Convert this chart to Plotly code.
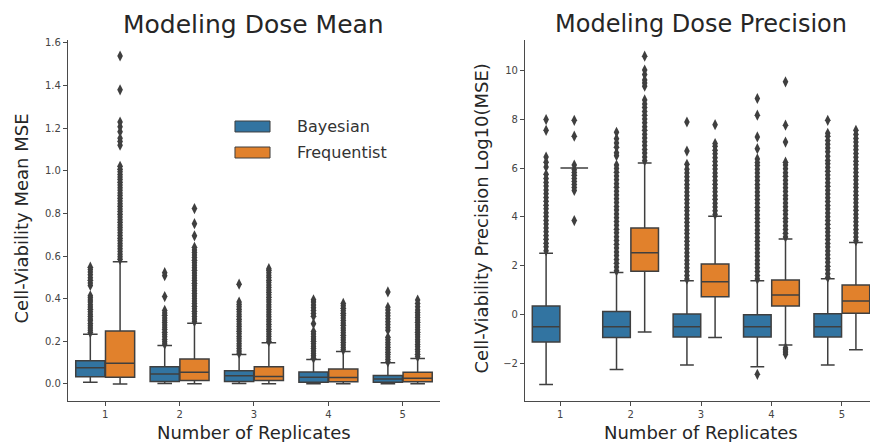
import plotly.graph_objects as go

replicates = ["1", "2", "3", "4", "5"]

# ---- Modeling Dose Mean: Cell-Viability Mean MSE ----
mean_bayes_q1 = [0.034, 0.011, 0.011, 0.008, 0.008]
mean_bayes_median = [0.076, 0.047, 0.038, 0.031, 0.023]
mean_bayes_q3 = [0.109, 0.081, 0.062, 0.056, 0.040]
mean_bayes_low = [0.008, 0.002, 0.002, 0.001, 0.001]
mean_bayes_high = [0.233, 0.180, 0.138, 0.115, 0.099]
mean_bayes_outliers = [
    [0.241, 0.252, 0.263, 0.273, 0.284, 0.296, 0.305, 0.317, 0.327, 0.339, 0.350, 0.361,
     0.372, 0.384, 0.394, 0.405, 0.414, 0.462, 0.474, 0.487, 0.498, 0.512, 0.525, 0.537, 0.548],
    [0.187, 0.198, 0.209, 0.221, 0.232, 0.243, 0.255, 0.266, 0.277, 0.288, 0.299, 0.310,
     0.322, 0.333, 0.345, 0.410, 0.508, 0.522],
    [0.144, 0.155, 0.166, 0.178, 0.189, 0.201, 0.212, 0.223, 0.235, 0.247, 0.258, 0.270,
     0.281, 0.293, 0.304, 0.316, 0.327, 0.339, 0.350, 0.362, 0.373, 0.384, 0.468],
    [0.121, 0.132, 0.143, 0.155, 0.166, 0.177, 0.189, 0.200, 0.211, 0.222, 0.234, 0.246,
     0.283, 0.318, 0.331, 0.345, 0.358, 0.371, 0.384, 0.395],
    [0.104, 0.115, 0.127, 0.138, 0.149, 0.161, 0.172, 0.184, 0.195, 0.207, 0.219, 0.252,
     0.265, 0.279, 0.292, 0.306, 0.320, 0.333, 0.347, 0.360, 0.432],
]

mean_freq_q1 = [0.031, 0.016, 0.016, 0.010, 0.010]
mean_freq_median = [0.097, 0.055, 0.035, 0.030, 0.027]
mean_freq_q3 = [0.249, 0.117, 0.081, 0.070, 0.055]
mean_freq_low = [0.000, 0.001, 0.001, 0.001, 0.001]
mean_freq_high = [0.574, 0.285, 0.193, 0.152, 0.120]
mean_freq_outliers = [
    [0.585, 0.597, 0.609, 0.622, 0.634, 0.647, 0.659, 0.672, 0.684, 0.697, 0.709, 0.722,
     0.734, 0.746, 0.759, 0.771, 0.784, 0.796, 0.809, 0.821, 0.834, 0.846, 0.859, 0.871,
     0.884, 0.896, 0.909, 0.921, 0.934, 0.946, 0.959, 0.971, 0.983, 0.996, 1.008, 1.021,
     1.120, 1.138, 1.153, 1.184, 1.207, 1.229, 1.380, 1.539],
    [0.293, 0.305, 0.317, 0.329, 0.341, 0.353, 0.365, 0.377, 0.389, 0.401, 0.413, 0.425,
     0.437, 0.449, 0.461, 0.473, 0.485, 0.497, 0.509, 0.521, 0.533, 0.545, 0.557, 0.569,
     0.581, 0.593, 0.605, 0.617, 0.629, 0.641, 0.695, 0.752, 0.823],
    [0.200, 0.211, 0.223, 0.234, 0.246, 0.257, 0.269, 0.280, 0.292, 0.303, 0.315, 0.326,
     0.338, 0.349, 0.361, 0.372, 0.384, 0.395, 0.407, 0.418, 0.430, 0.441, 0.453, 0.464,
     0.476, 0.487, 0.499, 0.510, 0.522, 0.533, 0.541],
    [0.160, 0.171, 0.183, 0.194, 0.206, 0.217, 0.229, 0.240, 0.252, 0.263, 0.275, 0.286,
     0.298, 0.309, 0.321, 0.332, 0.344, 0.355, 0.367, 0.378],
    [0.128, 0.139, 0.151, 0.162, 0.174, 0.185, 0.197, 0.208, 0.220, 0.231, 0.243, 0.254,
     0.266, 0.277, 0.289, 0.300, 0.312, 0.323, 0.335, 0.347, 0.362, 0.378, 0.394],
]

# ---- Modeling Dose Precision: Log10(MSE) ----
prec_bayes_q1 = [-1.11, -0.93, -0.90, -0.90, -0.90]
prec_bayes_median = [-0.49, -0.49, -0.49, -0.49, -0.49]
prec_bayes_q3 = [0.36, 0.14, 0.03, 0.00, 0.05]
prec_bayes_low = [-2.85, -2.23, -2.05, -2.12, -2.05]
prec_bayes_high = [2.52, 1.73, 1.39, 1.39, 1.47]
prec_bayes_outliers = [
    [2.62, 2.78, 2.93, 3.09, 3.24, 3.40, 3.55, 3.71, 3.86, 4.02, 4.17, 4.33, 4.48, 4.64,
     4.79, 4.95, 5.10, 5.26, 5.41, 5.57, 5.74, 6.04, 6.24, 6.45, 7.54, 7.98],
    [1.80, 1.95, 2.11, 2.26, 2.42, 2.57, 2.73, 2.88, 3.04, 3.19, 3.35, 3.50, 3.66, 3.81,
     3.97, 4.12, 4.28, 4.43, 4.59, 4.74, 4.90, 5.05, 5.21, 5.36, 5.52, 5.67, 5.83, 5.98,
     6.12, 6.50, 6.62, 6.85, 7.02, 7.20, 7.46],
    [1.46, 1.61, 1.77, 1.92, 2.08, 2.23, 2.39, 2.54, 2.70, 2.85, 3.01, 3.16, 3.32, 3.47,
     3.63, 3.78, 3.94, 4.09, 4.25, 4.40, 4.56, 4.71, 4.87, 5.02, 5.18, 5.33, 5.49, 5.64,
     5.80, 5.95, 6.15, 6.69, 7.88],
    [-2.43, 1.46, 1.61, 1.77, 1.92, 2.08, 2.23, 2.39, 2.54, 2.70, 2.85, 3.01, 3.16, 3.32,
     3.47, 3.63, 3.78, 3.94, 4.09, 4.25, 4.40, 4.56, 4.71, 4.87, 5.02, 5.18, 5.33, 5.49,
     5.64, 5.80, 5.95, 6.10, 6.22, 6.37, 6.79, 7.27, 8.16, 8.84],
    [1.53, 1.68, 1.84, 1.99, 2.15, 2.30, 2.46, 2.61, 2.77, 2.92, 3.08, 3.23, 3.39, 3.54,
     3.70, 3.85, 4.01, 4.16, 4.32, 4.47, 4.63, 4.78, 4.94, 5.09, 5.25, 5.40, 5.56, 5.71,
     5.87, 6.02, 6.17, 6.31, 6.48, 6.66, 6.82, 6.97, 7.12, 7.30, 7.42, 7.95],
]

prec_freq_q1 = [6.00, 1.78, 0.74, 0.36, 0.07]
prec_freq_median = [6.00, 2.54, 1.35, 0.81, 0.57]
prec_freq_q3 = [6.00, 3.55, 2.08, 1.42, 1.22]
prec_freq_low = [6.00, -0.70, -0.93, -1.23, -1.43]
prec_freq_high = [6.00, 6.20, 4.03, 3.10, 2.96]
prec_freq_outliers = [
    [3.85, 5.08, 5.20, 5.33, 5.45, 5.57, 5.70, 5.82, 5.93, 6.12, 7.30, 7.95],
    [6.30, 6.45, 6.61, 6.76, 6.92, 7.07, 7.23, 7.38, 7.54, 7.69, 7.85, 8.00, 8.16, 8.31,
     8.47, 8.62, 8.78, 9.34, 9.47, 9.60, 9.82, 10.00, 10.57],
    [4.10, 4.25, 4.41, 4.56, 4.72, 4.87, 5.03, 5.18, 5.34, 5.49, 5.65, 5.80, 5.96, 6.11,
     6.27, 6.42, 6.58, 6.73, 6.89, 7.00, 7.77],
    [-1.61, -1.52, -1.43, -1.35, 3.18, 3.33, 3.49, 3.64, 3.80, 3.95, 4.11, 4.26, 4.42,
     4.57, 4.73, 4.88, 5.04, 5.19, 5.35, 5.50, 5.66, 5.81, 5.97, 6.12, 6.24, 7.06, 7.75, 9.52],
    [3.03, 3.18, 3.34, 3.49, 3.65, 3.80, 3.96, 4.11, 4.27, 4.42, 4.58, 4.73, 4.89, 5.04,
     5.20, 5.35, 5.51, 5.66, 5.82, 5.97, 6.13, 6.28, 6.44, 6.59, 6.75, 6.90, 7.06, 7.21,
     7.37, 7.54],
]

BLUE = "#3274a1"
ORANGE = "#e1812c"
EDGE = "#3f3f3f"
FONT = "DejaVu Sans"

fig = go.Figure()


def add_box(name, color, xa, ya, q1, med, q3, low, high, outliers):
    fig.add_trace(go.Box(
        name=name, offsetgroup=name, orientation="v",
        x=replicates, y=outliers,
        q1=q1, median=med, q3=q3, lowerfence=low, upperfence=high,
        boxpoints="outliers", jitter=0, pointpos=0,
        fillcolor=color, line=dict(color=EDGE, width=1.5), whiskerwidth=0.5,
        marker=dict(symbol="diamond-tall", size=8, color=EDGE, line=dict(width=0)),
        xaxis=xa, yaxis=ya, showlegend=False, hoverinfo="skip",
    ))


add_box("Bayesian", BLUE, "x", "y", mean_bayes_q1, mean_bayes_median, mean_bayes_q3,
        mean_bayes_low, mean_bayes_high, mean_bayes_outliers)
add_box("Frequentist", ORANGE, "x", "y", mean_freq_q1, mean_freq_median, mean_freq_q3,
        mean_freq_low, mean_freq_high, mean_freq_outliers)
add_box("Bayesian", BLUE, "x2", "y2", prec_bayes_q1, prec_bayes_median, prec_bayes_q3,
        prec_bayes_low, prec_bayes_high, prec_bayes_outliers)
add_box("Frequentist", ORANGE, "x2", "y2", prec_freq_q1, prec_freq_median, prec_freq_q3,
        prec_freq_low, prec_freq_high, prec_freq_outliers)

axis_common = dict(
    showline=True, linecolor="#4a4a4a", linewidth=1.2, showgrid=False, zeroline=False,
    ticks="outside", ticklen=4, tickwidth=1, tickcolor="#4a4a4a",
    tickfont=dict(family=FONT, size=10, color="#444444"),
)

fig.update_layout(
    width=870, height=442,
    margin=dict(l=68, r=0, t=40, b=41),
    paper_bgcolor="white", plot_bgcolor="white",
    boxmode="group", boxgap=0.2, boxgroupgap=0.02,
    font=dict(family=FONT, color="#262626"),
    xaxis=dict(domain=[0, 0.4638], type="category", range=[-0.5, 4.5], anchor="y",
               **axis_common),
    yaxis=dict(range=[-0.08, 1.614], tickvals=[0, 0.2, 0.4, 0.6, 0.8, 1.0, 1.2, 1.4, 1.6],
               tickformat=".1f", anchor="x", **axis_common),
    xaxis2=dict(domain=[0.5698, 1], type="category", range=[-0.5, 4.4], anchor="y2",
                **axis_common),
    yaxis2=dict(range=[-3.52, 11.23], tickvals=[-2, 0, 2, 4, 6, 8, 10], anchor="x2",
                **axis_common),
)

texts = [
    dict(text="Modeling Dose Mean", x=0.2319, y=1.0443, size=25, angle=0),
    dict(text="Modeling Dose Precision", x=0.789, y=1.0443, size=24, angle=0),
    dict(text="Number of Replicates", x=0.2319, y=-0.0859, size=18, angle=0),
    dict(text="Number of Replicates", x=0.789, y=-0.0859, size=18, angle=0),
    dict(text="Cell-Viability Mean MSE", x=-0.0574, y=0.5055, size=18, angle=-90),
    dict(text="Cell-Viability Precision Log10(MSE)", x=0.5162, y=0.5055, size=18, angle=-90),
]
for t in texts:
    fig.add_annotation(text=t["text"], x=t["x"], y=t["y"], xref="paper", yref="paper",
                       xanchor="center", yanchor="middle", showarrow=False,
                       textangle=t["angle"],
                       font=dict(family=FONT, size=t["size"], color="#262626"))

# legend drawn inside the left panel
legend_items = [("Bayesian", BLUE, 0.7756, 0.7452), ("Frequentist", ORANGE, 0.7036, 0.6731)]
for label, color, y1, y0 in legend_items:
    fig.add_shape(type="rect", xref="paper", yref="paper", x0=0.2082, x1=0.2519,
                  y0=y0, y1=y1, fillcolor=color, line=dict(color=EDGE, width=1))
    fig.add_annotation(text=label, x=0.283, y=(y0 + y1) / 2, xref="paper", yref="paper",
                       xanchor="left", yanchor="middle", showarrow=False,
                       font=dict(family=FONT, size=16, color="#333333"))

fig.write_html("out.html")
